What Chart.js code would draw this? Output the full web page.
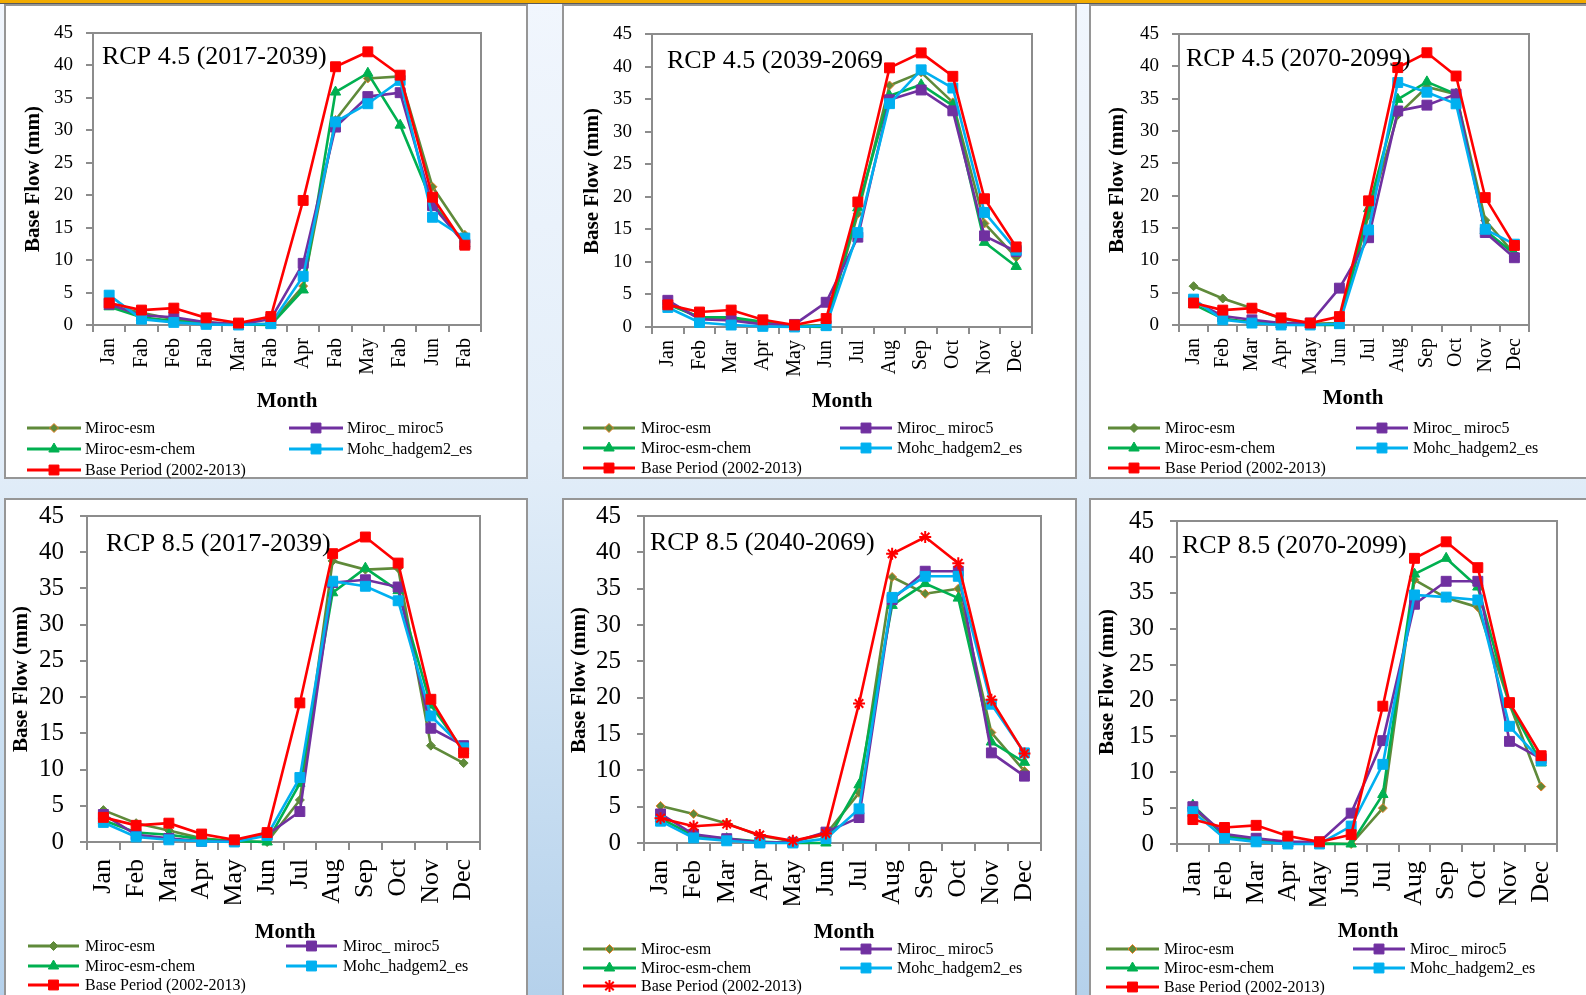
<!DOCTYPE html>
<html>
<head>
<meta charset="utf-8">
<script src="https://cdn.jsdelivr.net/npm/chart.js@4.4.1/dist/chart.umd.min.js"></script>
<style>
  html, body { margin: 0; padding: 0; }
  body {
    width: 1586px; height: 995px; overflow: hidden; position: relative;
    background: linear-gradient(to bottom, #f1f6fd 0%, #e3eef9 45%, #cadff2 75%, #b5d1eb 100%);
  }
  #topbar { position: absolute; left: 0; top: 0; width: 1586px; height: 3px;
    background: #f2ab00; border-bottom: 1px solid #5a5a5a; z-index: 3; }
  .box { position: absolute; background: #fff; border: 2px solid #969696; box-sizing: border-box; }
  canvas.layer { position: absolute; left: 0; top: 0; }
</style>
</head>
<body>
<div id="topbar"></div>
<div class="box" style="left:4px;top:4px;width:524px;height:475px"></div>
<div class="box" style="left:562px;top:4px;width:515px;height:475px"></div>
<div class="box" style="left:1089px;top:4px;width:520px;height:475px"></div>
<div class="box" style="left:4px;top:498px;width:524px;height:520px"></div>
<div class="box" style="left:562px;top:498px;width:515px;height:520px"></div>
<div class="box" style="left:1089px;top:498px;width:520px;height:520px"></div>
<canvas id="c1" class="layer" width="1586" height="995"></canvas>
<canvas id="c2" class="layer" width="1586" height="995"></canvas>
<canvas id="c3" class="layer" width="1586" height="995"></canvas>
<canvas id="c4" class="layer" width="1586" height="995"></canvas>
<canvas id="c5" class="layer" width="1586" height="995"></canvas>
<canvas id="c6" class="layer" width="1586" height="995"></canvas>
<script>
// ---- category labels ----
const months = ['Jan', 'Feb', 'Mar', 'Apr', 'May', 'Jun', 'Jul', 'Aug', 'Sep', 'Oct', 'Nov', 'Dec'];
const monthsFab = ['Jan', 'Fab', 'Feb', 'Fab', 'Mar', 'Fab', 'Apr', 'Fab', 'May', 'Fab', 'Jun', 'Fab'];
const yTicks = [0, 5, 10, 15, 20, 25, 30, 35, 40, 45];

// ---- base period (2002-2013), monthly base flow (mm) ----
const basePeriod = [3.4, 2.3, 2.6, 1.1, 0.3, 1.3, 19.2, 39.8, 42.1, 38.5, 19.7, 12.3];

// ---- RCP 4.5 (2017-2039) ----
const r45a_esm    = [3.0, 1.9, 0.9, 0.4, 0.1, 0.2, 6.0, 31.6, 38.0, 38.3, 21.3, 13.9];
const r45a_chem   = [2.8, 1.2, 0.6, 0.2, 0.1, 0.0, 5.4, 35.9, 38.8, 30.8, 18.8, 12.5];
const r45a_miroc5 = [3.2, 1.5, 1.2, 0.4, 0.1, 0.9, 9.5, 30.5, 35.2, 35.8, 18.4, 12.5];
const r45a_mohc   = [4.6, 0.9, 0.4, 0.1, 0.0, 0.2, 7.5, 31.3, 34.1, 37.7, 16.6, 13.4];

// ---- RCP 4.5 (2039-2069) ----
const r45b_esm    = [3.6, 1.5, 1.2, 0.6, 0.2, 0.3, 17.4, 37.1, 39.1, 34.5, 15.9, 10.7];
const r45b_chem   = [3.5, 1.5, 1.5, 0.8, 0.1, 0.0, 18.3, 35.5, 37.2, 34.0, 13.0, 9.3];
const r45b_miroc5 = [4.1, 1.2, 1.0, 0.4, 0.4, 3.8, 13.8, 34.9, 36.4, 33.2, 14.0, 11.6];
const r45b_mohc   = [3.0, 0.7, 0.3, 0.1, 0.0, 0.2, 14.5, 34.3, 39.5, 36.7, 17.6, 11.8];

// ---- RCP 4.5 (2070-2099) ----
const r45c_esm    = [6.0, 4.1, 2.6, 1.0, 0.2, 0.3, 17.0, 32.5, 36.8, 35.7, 16.2, 11.0];
const r45c_chem   = [3.2, 1.0, 0.4, 0.1, 0.0, 0.0, 18.0, 34.9, 37.6, 35.7, 14.6, 11.0];
const r45c_miroc5 = [3.7, 1.4, 0.8, 0.3, 0.3, 5.7, 13.5, 33.1, 34.0, 35.7, 14.3, 10.4];
const r45c_mohc   = [4.0, 0.8, 0.3, 0.0, 0.0, 0.2, 14.7, 37.5, 36.0, 34.2, 14.8, 12.5];

// ---- RCP 8.5 (2017-2039) ----
const r85a_esm    = [4.4, 2.6, 1.6, 0.5, 0.1, 0.0, 5.8, 38.8, 37.6, 37.8, 13.3, 10.9];
const r85a_chem   = [3.0, 1.3, 1.0, 0.4, 0.1, 0.0, 8.1, 34.4, 37.8, 34.7, 18.9, 12.6];
const r85a_miroc5 = [3.8, 1.0, 0.5, 0.1, 0.1, 1.0, 4.2, 35.8, 36.2, 35.2, 15.7, 13.3];
const r85a_mohc   = [2.7, 0.7, 0.3, 0.1, 0.0, 0.9, 8.9, 36.0, 35.3, 33.3, 17.4, 13.0];

// ---- RCP 8.5 (2040-2069) ----
const r85b_esm    = [5.1, 4.0, 2.7, 1.0, 0.2, 1.2, 6.9, 36.6, 34.3, 35.0, 15.2, 9.9];
const r85b_chem   = [3.4, 1.0, 0.6, 0.2, 0.0, 0.0, 8.0, 32.7, 35.7, 33.7, 13.9, 11.1];
const r85b_miroc5 = [4.0, 1.2, 0.6, 0.1, 0.1, 1.5, 3.5, 33.5, 37.4, 37.4, 12.4, 9.2];
const r85b_mohc   = [3.0, 0.7, 0.3, 0.0, 0.0, 0.6, 4.7, 33.8, 36.7, 36.7, 19.1, 12.4];

// ---- RCP 8.5 (2070-2099) ----
const r85c_esm    = [5.0, 1.2, 0.5, 0.1, 0.1, 0.0, 5.0, 36.8, 34.3, 33.0, 19.5, 8.0];
const r85c_chem   = [5.4, 1.1, 0.4, 0.1, 0.0, 0.0, 6.9, 37.6, 39.8, 35.8, 19.5, 11.3];
const r85c_miroc5 = [5.2, 1.4, 0.8, 0.3, 0.3, 4.3, 14.4, 33.4, 36.6, 36.6, 14.3, 11.9];
const r85c_mohc   = [4.5, 0.8, 0.3, 0.0, 0.0, 2.5, 11.1, 34.7, 34.4, 34.0, 16.4, 11.6];

// ---- styling ----
const FONT = '"Liberation Serif", "Times New Roman", serif';
const AXIS = '#8c8c8c';
const OLIVE = '#5f8a3a', ORANGE = '#e5802a', GREEN = '#00b050', PURPLE = '#7030a0', CYAN = '#00b0f0', RED = '#ff0000';
const Y_W = 48, X_H = 62;

const panels = [
  { id: 'c1', title: 'RCP 4.5 (2017-2039)', labels: monthsFab,
    esm: r45a_esm, chem: r45a_chem, miroc5: r45a_miroc5, mohc: r45a_mohc,
    area: { l: 93, r: 481, t: 33, b: 325 }, big: false, esmOrange: true, baseStar: false,
    titlePos: [102, 64], yTitle: [34, 179], xTitle: [287, 407],
    rows: [428, 449, 470], col1: [27, 81, 85], col2: [289, 343, 347] },
  { id: 'c2', title: 'RCP 4.5 (2039-2069', labels: months,
    esm: r45b_esm, chem: r45b_chem, miroc5: r45b_miroc5, mohc: r45b_mohc,
    area: { l: 652, r: 1032, t: 34, b: 327 }, big: false, esmOrange: true, baseStar: false,
    titlePos: [667, 68], yTitle: [593, 181], xTitle: [842, 407],
    rows: [428, 448, 468], col1: [583, 635, 641], col2: [840, 892, 897] },
  { id: 'c3', title: 'RCP 4.5 (2070-2099)', labels: months,
    esm: r45c_esm, chem: r45c_chem, miroc5: r45c_miroc5, mohc: r45c_mohc,
    area: { l: 1179, r: 1529, t: 34, b: 325 }, big: false, esmOrange: false, baseStar: false,
    titlePos: [1186, 66], yTitle: [1118, 180], xTitle: [1353, 404],
    rows: [428, 448, 468], col1: [1108, 1160, 1165], col2: [1356, 1408, 1413] },
  { id: 'c4', title: 'RCP 8.5 (2017-2039)', labels: months,
    esm: r85a_esm, chem: r85a_chem, miroc5: r85a_miroc5, mohc: r85a_mohc,
    area: { l: 87, r: 480, t: 516, b: 842 }, big: true, esmOrange: false, baseStar: false,
    titlePos: [106, 551], yTitle: [22, 679], xTitle: [285, 938],
    rows: [946, 966, 985], col1: [28, 79, 85], col2: [286, 337, 343] },
  { id: 'c5', title: 'RCP 8.5 (2040-2069)', labels: months,
    esm: r85b_esm, chem: r85b_chem, miroc5: r85b_miroc5, mohc: r85b_mohc,
    area: { l: 644, r: 1041, t: 516, b: 843 }, big: true, esmOrange: true, baseStar: true,
    titlePos: [650, 550], yTitle: [580, 680], xTitle: [844, 938],
    rows: [949, 968, 986], col1: [583, 636, 641], col2: [840, 892, 897] },
  { id: 'c6', title: 'RCP 8.5 (2070-2099)', labels: months,
    esm: r85c_esm, chem: r85c_chem, miroc5: r85c_miroc5, mohc: r85c_mohc,
    area: { l: 1177, r: 1557, t: 521, b: 844 }, big: true, esmOrange: true, baseStar: false,
    titlePos: [1182, 553], yTitle: [1108, 682], xTitle: [1368, 937],
    rows: [949, 968, 987], col1: [1106, 1159, 1164], col2: [1353, 1405, 1410] }
];

function series(label, data, color, style, radius, fill, stroke, order) {
  return {
    label, data,
    borderColor: color, backgroundColor: color, borderWidth: 2.6,
    pointStyle: style, pointRadius: radius, pointHoverRadius: radius,
    pointBackgroundColor: fill, pointBorderColor: stroke,
    pointBorderWidth: style === 'star' ? 2 : 1,
    tension: 0, clip: false, order
  };
}

// Titles, axis captions, frame and two-column legend for one panel
function decorations(p) {
  return {
    id: 'decor_' + p.id,
    beforeDatasetsDraw(chart) {
      const a = chart.chartArea, ctx = chart.ctx;
      ctx.save();
      ctx.strokeStyle = AXIS; ctx.lineWidth = 2;
      ctx.strokeRect(a.left, a.top, a.right - a.left, a.bottom - a.top);
      ctx.restore();
    },
    afterDraw(chart) {
      const ctx = chart.ctx;
      ctx.save();
      ctx.fillStyle = '#000';
      // panel title inside plot
      ctx.font = '26px ' + FONT;
      ctx.textAlign = 'left'; ctx.textBaseline = 'alphabetic';
      ctx.fillText(p.title, p.titlePos[0], p.titlePos[1]);
      // x axis caption
      ctx.font = 'bold 21px ' + FONT;
      ctx.textAlign = 'center';
      ctx.fillText('Month', p.xTitle[0], p.xTitle[1]);
      // y axis caption
      ctx.save();
      ctx.translate(p.yTitle[0], p.yTitle[1]);
      ctx.rotate(-Math.PI / 2);
      ctx.textBaseline = 'middle';
      ctx.fillText('Base Flow (mm)', 0, 0);
      ctx.restore();
      // legend
      const ds = chart.data.datasets;
      const slots = [
        [0, p.col1, p.rows[0]], [2, p.col2, p.rows[0]],
        [1, p.col1, p.rows[1]], [3, p.col2, p.rows[1]],
        [4, p.col1, p.rows[2]]
      ];
      slots.forEach(([i, col, y]) => {
        const d = ds[i];
        ctx.strokeStyle = d.borderColor; ctx.lineWidth = 3;
        ctx.beginPath(); ctx.moveTo(col[0], y); ctx.lineTo(col[1], y); ctx.stroke();
        ctx.fillStyle = d.pointBackgroundColor; ctx.strokeStyle = d.pointBorderColor;
        ctx.lineWidth = d.pointBorderWidth;
        Chart.helpers.drawPoint(ctx, { pointStyle: d.pointStyle, radius: d.pointRadius, borderWidth: d.pointBorderWidth, rotation: 0 }, (col[0] + col[1]) / 2, y);
        ctx.fillStyle = '#000';
        ctx.font = '16px ' + FONT;
        ctx.textAlign = 'left'; ctx.textBaseline = 'middle';
        ctx.fillText(d.label, col[2], y + 1);
      });
      ctx.restore();
    }
  };
}

panels.forEach(p => {
  const yFont = p.big ? 25 : 19, xFont = p.big ? 26 : 20;
  const datasets = [
    series('Miroc-esm', p.esm, OLIVE, 'rectRot', 4.5, OLIVE, p.esmOrange ? ORANGE : OLIVE, 4),
    series('Miroc-esm-chem', p.chem, GREEN, 'triangle', 6, GREEN, GREEN, 3),
    series('Miroc_ miroc5', p.miroc5, PURPLE, 'rect', 7, PURPLE, PURPLE, 2),
    series('Mohc_hadgem2_es', p.mohc, CYAN, 'rect', 7, CYAN, CYAN, 1),
    p.baseStar
      ? series('Base Period (2002-2013)', basePeriod, RED, 'star', 6, RED, RED, 0)
      : series('Base Period (2002-2013)', basePeriod, RED, 'rect', 7, RED, RED, 0)
  ];
  new Chart(document.getElementById(p.id), {
    type: 'line',
    data: { labels: p.labels, datasets },
    options: {
      responsive: false, animation: false, devicePixelRatio: 1,
      events: [],
      layout: { padding: { left: p.area.l - Y_W, right: 1586 - p.area.r, top: p.area.t, bottom: 995 - p.area.b - X_H } },
      plugins: { legend: { display: false }, tooltip: { enabled: false }, title: { display: false } },
      scales: {
        x: {
          offset: true,
          grid: { offset: true, drawOnChartArea: false, drawTicks: true, tickLength: p.big ? 8 : 7, color: AXIS, lineWidth: 2 },
          border: { display: true, color: AXIS, width: 2 },
          ticks: { autoSkip: false, maxRotation: 90, minRotation: 90, padding: p.big ? 9 : 6, color: '#000',
                   font: { family: FONT, size: xFont } },
          afterFit: s => { s.height = X_H; }
        },
        y: {
          min: 0, max: 45,
          afterBuildTicks: s => { s.ticks = yTicks.map(v => ({ value: v })); },
          grid: { drawOnChartArea: false, drawTicks: true, tickLength: 7, color: AXIS, lineWidth: 2 },
          border: { display: true, color: AXIS, width: 2 },
          ticks: { padding: p.big ? 16 : 13, color: '#000', font: { family: FONT, size: yFont } },
          afterFit: s => { s.width = Y_W; }
        }
      }
    },
    plugins: [decorations(p)]
  });
});
</script>
</body>
</html>
